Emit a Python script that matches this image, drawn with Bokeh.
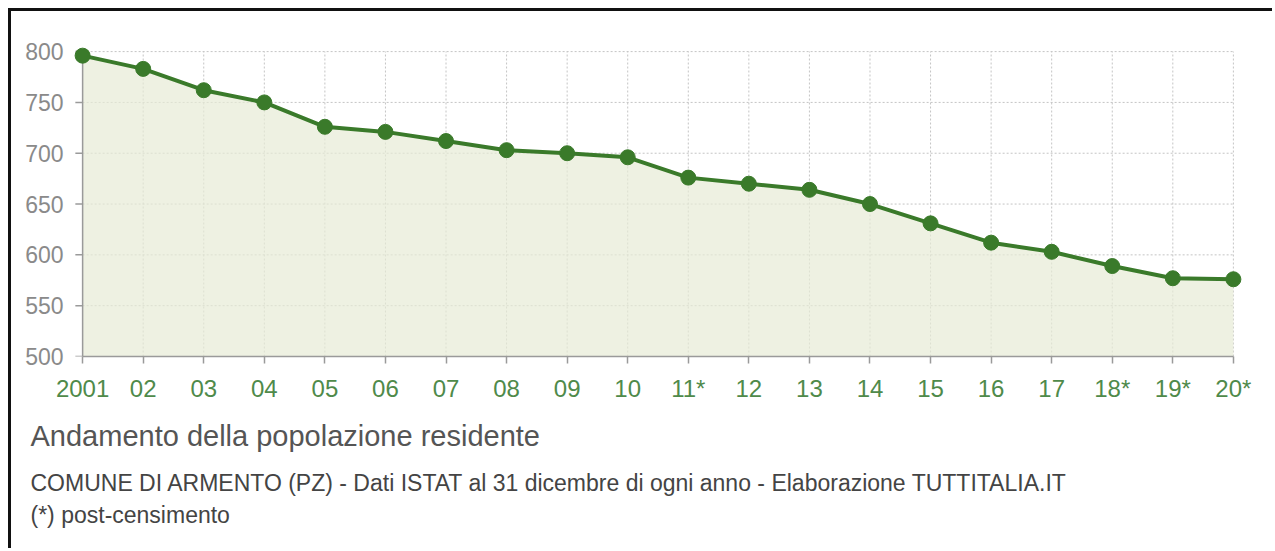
from bokeh.plotting import figure
from bokeh.models import ColumnDataSource, FixedTicker, Range1d, Title
from bokeh.embed import file_html
from bokeh.resources import INLINE

years = list(range(2001, 2021))
year_labels = ["2001", "02", "03", "04", "05", "06", "07", "08", "09", "10",
               "11*", "12", "13", "14", "15", "16", "17", "18*", "19*", "20*"]
population = [796, 783, 762, 750, 726, 721, 712, 703, 700, 696,
              676, 670, 664, 650, 631, 612, 603, 589, 577, 576]
y_ticks = [500, 550, 600, 650, 700, 750, 800]

title_text = "Andamento della popolazione residente"
subtitle_text = "COMUNE DI ARMENTO (PZ) - Dati ISTAT al 31 dicembre di ogni anno - Elaborazione TUTTITALIA.IT"
note_text = "(*) post-censimento"

FONT = "Liberation Sans"
AXIS_COLOR = "#9a9a9a"

x0, x1 = years[0], years[-1]
y0, y1 = y_ticks[0], y_ticks[-1]
pad = 0.2          # room (in years) so the end markers are not clipped
tick_len = 0.12    # y tick length, in years (~7 px)

src = ColumnDataSource(dict(x=years, y=population, base=[y0] * len(years)))

p = figure(width=1264, height=540, output_backend="svg", toolbar_location=None,
           x_range=Range1d(x0 - pad, x1 + pad), y_range=Range1d(y0, y1 + 6),
           min_border_left=59, min_border_right=30, min_border_top=34, min_border_bottom=195,
           background_fill_color="white", border_fill_color="white",
           outline_line_color=None)
p.styles = {"border-left": "3px solid #111", "border-top": "3px solid #111",
            "margin-left": "8px", "margin-top": "8px"}

p.xgrid.visible = False
p.ygrid.visible = False

# dotted grid drawn from the tick values, limited to the data extent
p.multi_line(xs=[[x0, x1] for _ in y_ticks], ys=[[t, t] for t in y_ticks],
             line_color="#c4c4c4", line_dash="2 2", line_width=1)
p.multi_line(xs=[[yr, yr] for yr in years], ys=[[y0, y1] for _ in years],
             line_color="#c4c4c4", line_dash="2 2", line_width=1)

p.varea(x="x", y1="base", y2="y", source=src, fill_color="#e7ebd6", fill_alpha=0.7)

# y axis line and ticks at the first year
p.line(x=[x0, x0], y=[y0, y1], line_color=AXIS_COLOR, line_width=1.5)
p.multi_line(xs=[[x0 - tick_len, x0] for _ in y_ticks], ys=[[t, t] for t in y_ticks],
             line_color=AXIS_COLOR, line_width=1.5)

p.line(x="x", y="y", source=src, line_color="#3a7a2a", line_width=4)
p.scatter(x="x", y="y", source=src, size=15, fill_color="#3a7a2a", line_color="#3a7a2a")

p.xaxis.ticker = FixedTicker(ticks=years)
p.xaxis.major_label_overrides = {yr: lab for yr, lab in zip(years, year_labels)}
p.xaxis.bounds = (x0, x1)
p.yaxis.ticker = FixedTicker(ticks=y_ticks)

for ax in (p.xaxis[0], p.yaxis[0]):
    ax.axis_line_color = AXIS_COLOR
    ax.axis_line_width = 1.5
    ax.major_tick_line_color = AXIS_COLOR
    ax.major_tick_line_width = 1.5
    ax.major_tick_in = 0
    ax.major_tick_out = 7
    ax.minor_tick_line_color = None
    ax.major_label_text_font = FONT

p.yaxis.axis_line_color = None
p.yaxis.major_tick_line_color = None
p.yaxis.major_tick_out = 0
p.yaxis.major_label_standoff = 7

p.xaxis.major_label_text_font_size = "24px"
p.yaxis.major_label_text_font_size = "23px"
p.xaxis.major_label_text_color = "#4f8a4a"
p.xaxis.major_label_standoff = 11
p.yaxis.major_label_text_color = "#8a8a8a"

t1 = Title(text=title_text, align="left", offset=-40, text_font=FONT,
           text_font_size="29px", text_font_style="normal", text_color="#555555",
           standoff=27)
t2 = Title(text=subtitle_text, align="left", offset=-40, text_font=FONT,
           text_font_size="23px", text_font_style="normal", text_color="#444444",
           standoff=4)
t3 = Title(text=note_text, align="left", offset=-40, text_font=FONT,
           text_font_size="23px", text_font_style="normal", text_color="#444444",
           standoff=4)
p.add_layout(t1, "below")
p.add_layout(t2, "below")
p.add_layout(t3, "below")

open("out.html", "w").write(file_html(p, INLINE))
